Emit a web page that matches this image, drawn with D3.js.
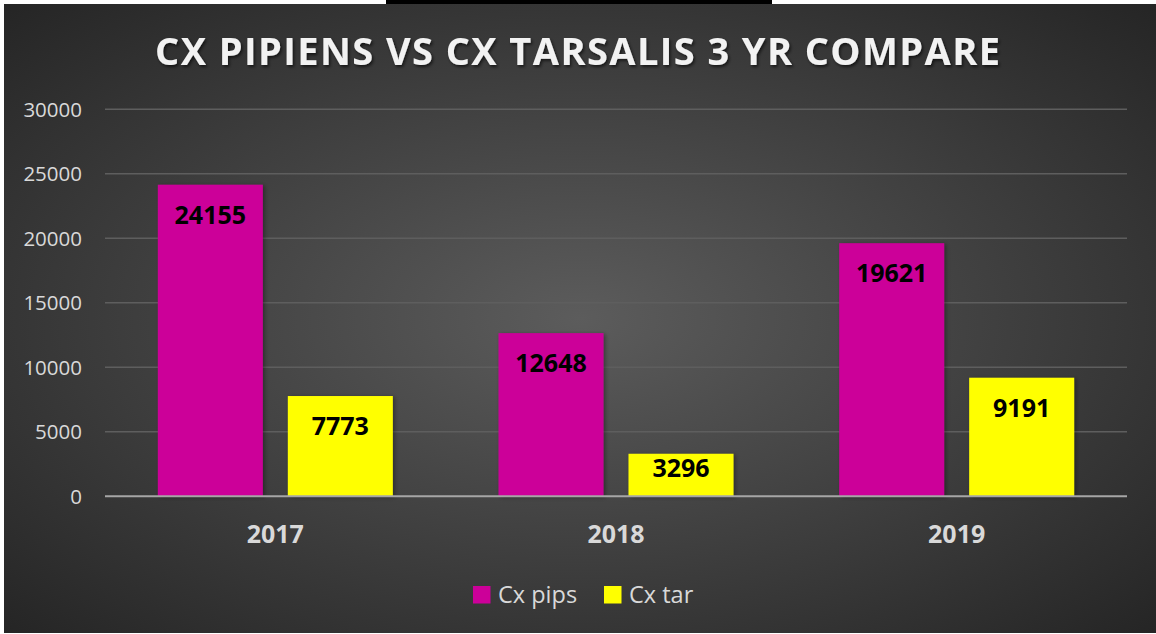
<!DOCTYPE html>
<html>
<head>
<meta charset="utf-8">
<script src="https://cdn.jsdelivr.net/npm/d3@7"></script>
<style>
  html, body { margin: 0; padding: 0; background: #ffffff; }
  svg { display: block; }
</style>
</head>
<body>
<div id="chart"></div>
<script>
// ========================
// Data
// ========================
const years = ["2017", "2018", "2019"];
const seriesNames = ["Cx pips", "Cx tar"];
const pipsValues = [24155, 12648, 19621];
const tarValues = [7773, 3296, 9191];
const yTicks = [0, 5000, 10000, 15000, 20000, 25000, 30000];
const seriesColors = ["#cc0099", "#ffff00"];
const titleText = "CX PIPIENS VS CX TARSALIS 3 YR COMPARE";

const rows = years.map((y, i) => ({
    year: y,
    values: [
        { key: seriesNames[0], value: pipsValues[i] },
        { key: seriesNames[1], value: tarValues[i] }
    ]
}));

// ========================
// Setup
// ========================
const width = 1156;
const height = 634;
const plot = { left: 105, right: 1127, top: 109.3, bottom: 496.3 };
const font = "'Open Sans', 'DejaVu Sans', sans-serif";

const svg = d3.select("#chart").append("svg")
    .attr("width", width)
    .attr("height", height);

const defs = svg.append("defs");

const bg = defs.append("radialGradient")
    .attr("id", "bg")
    .attr("cx", "50%").attr("cy", "50%").attr("r", "72%");
bg.append("stop").attr("offset", "0%").attr("stop-color", "#5c5c5c");
bg.append("stop").attr("offset", "100%").attr("stop-color", "#242424");

const titleShadow = defs.append("filter").attr("id", "tshadow")
    .attr("x", "-5%").attr("y", "-20%").attr("width", "110%").attr("height", "150%");
titleShadow.append("feDropShadow")
    .attr("dx", 1.5).attr("dy", 2).attr("stdDeviation", 1.5)
    .attr("flood-color", "#000").attr("flood-opacity", 0.6);

const barShadow = defs.append("filter").attr("id", "bshadow")
    .attr("x", "-10%").attr("y", "-10%").attr("width", "130%").attr("height", "120%");
barShadow.append("feDropShadow")
    .attr("dx", 2).attr("dy", 1).attr("stdDeviation", 2)
    .attr("flood-color", "#000").attr("flood-opacity", 0.35);

// background panel
svg.append("rect")
    .attr("x", 4).attr("y", 4)
    .attr("width", width - 4).attr("height", height - 5)
    .attr("fill", "url(#bg)");

// black strip at the top
svg.append("rect")
    .attr("x", 386).attr("y", 0)
    .attr("width", 386).attr("height", 4)
    .attr("fill", "#000");

// ========================
// Scales
// ========================
const y = d3.scaleLinear()
    .domain([0, 30000])
    .range([plot.bottom, plot.top]);

const x0 = d3.scaleBand()
    .domain(years)
    .range([plot.left, plot.right])
    .padding(0);

const groupWidth = 235;
const groupOffset = (x0.bandwidth() - groupWidth) / 2;
const x1 = d3.scaleBand()
    .domain(seriesNames)
    .range([groupOffset, groupOffset + groupWidth])
    .paddingInner(25 / 130)
    .paddingOuter(0);

const color = d3.scaleOrdinal(seriesNames, seriesColors);

// ========================
// Title
// ========================
svg.append("text")
    .attr("x", 577.5)
    .attr("y", 65)
    .attr("text-anchor", "middle")
    .attr("textLength", 845)
    .attr("lengthAdjust", "spacing")
    .attr("filter", "url(#tshadow)")
    .style("font-family", font)
    .style("font-size", "38px")
    .style("font-weight", "bold")
    .style("fill", "#f2f2f2")
    .text(titleText);

// ========================
// Grid + y axis
// ========================
svg.append("g")
    .selectAll("line")
    .data(yTicks.filter(t => t > 0))
    .join("line")
    .attr("x1", plot.left).attr("x2", plot.right)
    .attr("y1", d => y(d)).attr("y2", d => y(d))
    .attr("stroke", "#5e5e5e")
    .attr("stroke-width", 1.5);

svg.append("g")
    .selectAll("text")
    .data(yTicks)
    .join("text")
    .attr("x", 82)
    .attr("y", d => y(d))
    .attr("dy", "0.36em")
    .attr("text-anchor", "end")
    .style("font-family", font)
    .style("font-size", "20.5px")
    .style("fill", "#d9d9d9")
    .text(d => d);

// ========================
// Bars
// ========================
const groups = svg.append("g")
    .selectAll("g")
    .data(rows)
    .join("g")
    .attr("transform", d => `translate(${x0(d.year)},0)`);

groups.selectAll("rect")
    .data(d => d.values)
    .join("rect")
    .attr("x", d => x1(d.key))
    .attr("width", x1.bandwidth())
    .attr("y", d => y(d.value))
    .attr("height", d => y(0) - y(d.value))
    .attr("fill", d => color(d.key))
    .attr("filter", "url(#bshadow)");

// data labels (inside end)
groups.selectAll("text")
    .data(d => d.values)
    .join("text")
    .attr("x", d => x1(d.key) + x1.bandwidth() / 2)
    .attr("y", d => Math.min(y(d.value) + 39, y(0) - 19))
    .attr("text-anchor", "middle")
    .style("font-family", font)
    .style("font-size", "25px")
    .style("font-weight", "bold")
    .style("fill", "#000")
    .text(d => d.value);

// zero axis line
svg.append("line")
    .attr("x1", plot.left).attr("x2", plot.right)
    .attr("y1", y(0)).attr("y2", y(0))
    .attr("stroke", "#a6a6a6")
    .attr("stroke-width", 2);

// category labels
svg.append("g")
    .selectAll("text")
    .data(years)
    .join("text")
    .attr("x", d => x0(d) + x0.bandwidth() / 2)
    .attr("y", 543)
    .attr("text-anchor", "middle")
    .style("font-family", font)
    .style("font-size", "25px")
    .style("font-weight", "bold")
    .style("fill", "#d9d9d9")
    .text(d => d);

// ========================
// Legend
// ========================
const legendX = [473, 604];
const legend = svg.append("g")
    .selectAll("g")
    .data(seriesNames)
    .join("g")
    .attr("transform", (d, i) => `translate(${legendX[i]},586)`);

legend.append("rect")
    .attr("width", 17.5).attr("height", 17.5)
    .attr("fill", d => color(d));

legend.append("text")
    .attr("x", 25)
    .attr("y", 16.5)
    .style("font-family", font)
    .style("font-size", "23.5px")
    .style("fill", "#d9d9d9")
    .text(d => d);
</script>
</body>
</html>
